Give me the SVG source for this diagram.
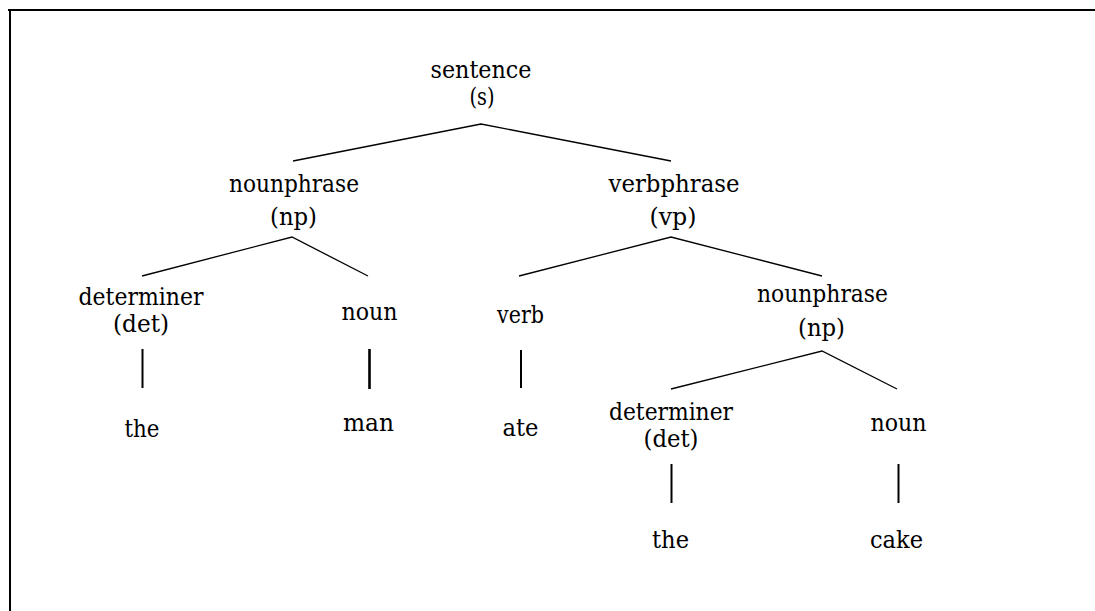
<svg xmlns="http://www.w3.org/2000/svg" width="1095" height="611" viewBox="0 0 1095 611">
<style>
.t text{font-size:24px;fill:#000;text-anchor:middle}
.e{stroke:#000;stroke-width:1.3;fill:none}
.b{stroke:#000;stroke-width:2;fill:none}
.b3{stroke:#000;stroke-width:2.6;fill:none}
</style>
<rect width="1095" height="611" fill="#fff"/>
<path d="M8 10H1095M10 9V611" stroke="#000" stroke-width="2" fill="none"/>
<g id="connectors">
<path class="e" d="M293 161L481 124L671 161"/>
<path class="e" d="M142 276L292 237L368 276"/>
<path class="e" d="M519 276L671 237L822 276"/>
<path class="e" d="M671 389L822 351L897 389"/>
<path class="b" d="M142.5 349V388"/>
<path class="b3" d="M369.5 349V389"/>
<path class="b" d="M521 350V388"/>
<path class="b" d="M671.5 464V503"/>
<path class="b" d="M898.5 464V503"/>
</g>
<g class="t" font-family="'DejaVu Serif', serif">
<g id="s"><text x="481" y="78" textLength="101" lengthAdjust="spacingAndGlyphs">sentence</text><text x="482" y="105" textLength="25" lengthAdjust="spacingAndGlyphs">(s)</text></g>
<g id="np1"><text x="294" y="192" textLength="130" lengthAdjust="spacingAndGlyphs">nounphrase</text><text x="293.5" y="225" textLength="47" lengthAdjust="spacingAndGlyphs">(np)</text></g>
<g id="vp"><text x="674" y="192" textLength="131" lengthAdjust="spacingAndGlyphs">verbphrase</text><text x="673" y="225" textLength="47" lengthAdjust="spacingAndGlyphs">(vp)</text></g>
<g id="det1"><text x="141" y="305" textLength="125" lengthAdjust="spacingAndGlyphs">determiner</text><text x="141" y="332" textLength="56" lengthAdjust="spacingAndGlyphs">(det)</text></g>
<g id="noun1"><text x="369.5" y="320" textLength="56" lengthAdjust="spacingAndGlyphs">noun</text></g>
<g id="verb"><text x="520.5" y="323" textLength="47" lengthAdjust="spacingAndGlyphs">verb</text></g>
<g id="np2"><text x="822.5" y="302" textLength="131" lengthAdjust="spacingAndGlyphs">nounphrase</text><text x="821.5" y="336" textLength="47" lengthAdjust="spacingAndGlyphs">(np)</text></g>
<g id="det2"><text x="671" y="420" textLength="124" lengthAdjust="spacingAndGlyphs">determiner</text><text x="671" y="447" textLength="55" lengthAdjust="spacingAndGlyphs">(det)</text></g>
<g id="noun2"><text x="898.5" y="431" textLength="56" lengthAdjust="spacingAndGlyphs">noun</text></g>
<g id="the1"><text x="142" y="437" textLength="35" lengthAdjust="spacingAndGlyphs">the</text></g>
<g id="man"><text x="368.5" y="431" textLength="51" lengthAdjust="spacingAndGlyphs">man</text></g>
<g id="ate"><text x="520.5" y="436" textLength="36" lengthAdjust="spacingAndGlyphs">ate</text></g>
<g id="the2"><text x="670.5" y="548" textLength="37" lengthAdjust="spacingAndGlyphs">the</text></g>
<g id="cake"><text x="896.5" y="548" textLength="53" lengthAdjust="spacingAndGlyphs">cake</text></g>
</g>
</svg>
